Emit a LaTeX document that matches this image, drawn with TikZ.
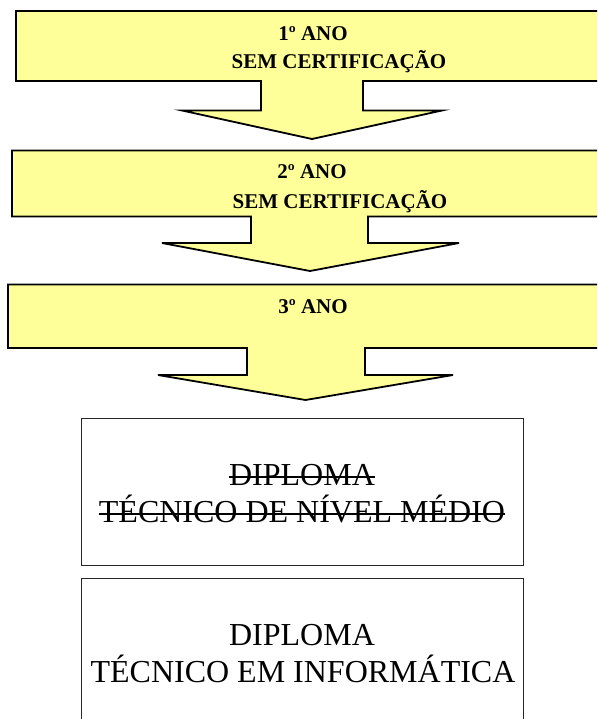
\documentclass[tikz,border=0pt]{standalone}
\usepackage{fontspec}
\setmainfont{Liberation Serif}
\definecolor{arrowyellow}{RGB}{255,255,153}
\tikzset{
  bigarrow/.style={draw=black, line width=1.8pt, fill=arrowyellow, line join=miter},
  diplbox/.style={draw=black!85, line width=1pt, fill=white},
  yeartext/.style={anchor=base, inner sep=0pt, font=\fontsize{21}{28}\selectfont\bfseries},
  dipltext/.style={anchor=base, inner sep=0pt, font=\fontsize{32}{37}\selectfont},
  strike/.style={line width=1.2pt, black}
}
\begin{document}
\begin{tikzpicture}[x=1pt, y=-1pt]
\useasboundingbox (0,0) rectangle (597,719);
\clip (0,0) rectangle (597,719);
% arrow 1
\draw[bigarrow] (16,11) -- (650,11) -- (650,81) -- (363,81) -- (363,110.5) -- (442,110.5)
  -- (312,139) -- (182,110.5) -- (261,110.5) -- (261,81) -- (16,81) -- cycle;
\node[yeartext] (y1a) at (313,41) {1º ANO};
\node[yeartext] (y1b) at (339,69) {SEM CERTIFICAÇÃO};
% arrow 2
\draw[bigarrow] (12,150.5) -- (650,150.5) -- (650,216.5) -- (368,216.5) -- (368,243) -- (459,243)
  -- (310,271) -- (162,243) -- (251,243) -- (251,216.5) -- (12,216.5) -- cycle;
\node[yeartext] (y2a) at (312,179) {2º ANO};
\node[yeartext] (y2b) at (340,208) {SEM CERTIFICAÇÃO};
% arrow 3
\draw[bigarrow] (8,284.5) -- (650,284.5) -- (650,348) -- (365,348) -- (365,375) -- (453,375)
  -- (305.5,400) -- (158,375) -- (247,375) -- (247,348) -- (8,348) -- cycle;
\node[yeartext] (y3a) at (313,313) {3º ANO};
% diploma boxes
\draw[diplbox] (81,418) rectangle (523,565);
\node[dipltext] (d1a) at (302,485) {DIPLOMA};
\node[dipltext] (d1b) at (302,522) {TÉCNICO DE NÍVEL MÉDIO};
\draw[strike] ([yshift=8pt]d1a.base west) -- ([yshift=8pt]d1a.base east);
\draw[strike] ([yshift=8pt]d1b.base west) -- ([yshift=8pt]d1b.base east);
\draw[diplbox] (81,578) rectangle (523,740);
\node[dipltext] (d2a) at (302,645) {DIPLOMA};
\node[dipltext] (d2b) at (303,682) {TÉCNICO EM INFORMÁTICA};
\end{tikzpicture}
\end{document}
